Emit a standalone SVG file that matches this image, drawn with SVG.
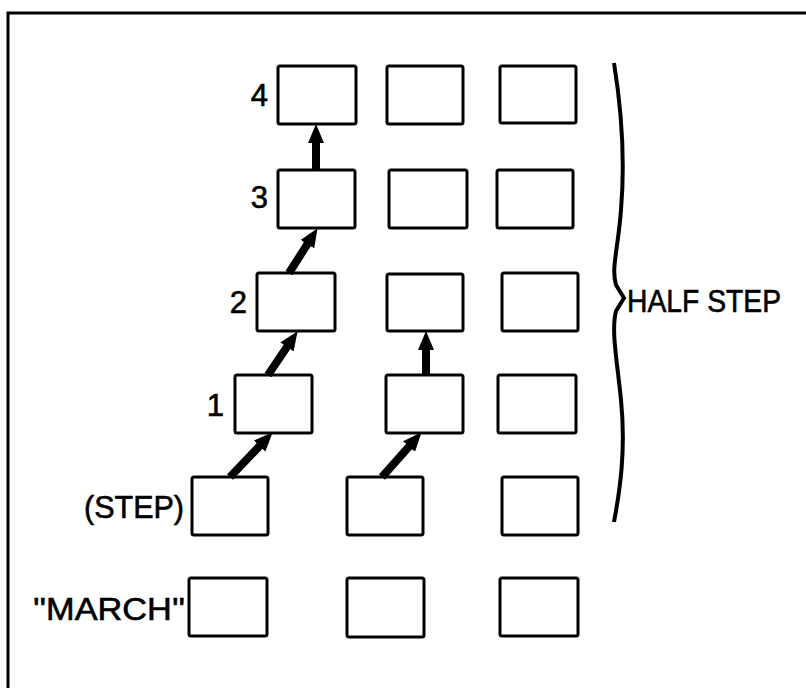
<svg xmlns="http://www.w3.org/2000/svg" width="806" height="688" viewBox="0 0 806 688">
<style>
.box{fill:#fff;stroke:#000;stroke-width:3;}
.lbl{font-family:"Liberation Sans",Arial,sans-serif;font-size:31px;fill:#000;stroke:#000;stroke-width:0.6;}
.arr{stroke:#000;stroke-width:8;fill:none;marker-end:url(#ah);}
</style>
<defs>
<marker id="ah" markerUnits="userSpaceOnUse" markerWidth="20" markerHeight="17" refX="9" refY="8" orient="auto" viewBox="0 0 20 16">
<path d="M0,0 L19,8 L0,16 Z" fill="#000"/>
</marker>
</defs>
<rect width="806" height="688" fill="#fff"/>
<g id="frame" fill="none" stroke="#000" stroke-width="3">
<path d="M8,688 L8,13 L806,13"/>
</g>
<g id="r4c1"><rect class="box" x="278" y="66" width="78" height="58" rx="2"/><text class="lbl" x="268" y="106" text-anchor="end">4</text></g>
<g id="r4c2"><rect class="box" x="387" y="66" width="76" height="58" rx="2"/></g>
<g id="r4c3"><rect class="box" x="500" y="66" width="76" height="57" rx="2"/></g>
<g id="r3c1"><rect class="box" x="278" y="170" width="77" height="58" rx="2"/><text class="lbl" x="268" y="208" text-anchor="end">3</text></g>
<g id="r3c2"><rect class="box" x="389" y="170" width="78" height="58" rx="2"/></g>
<g id="r3c3"><rect class="box" x="497" y="170" width="76" height="58" rx="2"/></g>
<g id="r2c1"><rect class="box" x="257" y="273" width="78" height="58" rx="2"/><text class="lbl" x="247" y="313" text-anchor="end">2</text></g>
<g id="r2c2"><rect class="box" x="387" y="274" width="76" height="57" rx="2"/></g>
<g id="r2c3"><rect class="box" x="502" y="273" width="76" height="58" rx="2"/></g>
<g id="r1c1"><rect class="box" x="235" y="375" width="77" height="58" rx="2"/><text class="lbl" x="224" y="416" text-anchor="end">1</text></g>
<g id="r1c2"><rect class="box" x="386" y="375" width="77" height="58" rx="2"/></g>
<g id="r1c3"><rect class="box" x="498" y="375" width="78" height="58" rx="2"/></g>
<g id="r0c1"><rect class="box" x="192" y="477" width="76" height="58" rx="2"/><text class="lbl" x="84" y="518" textLength="100" lengthAdjust="spacingAndGlyphs">(STEP)</text></g>
<g id="r0c2"><rect class="box" x="347" y="477" width="76" height="58" rx="2"/></g>
<g id="r0c3"><rect class="box" x="502" y="477" width="76" height="58" rx="2"/></g>
<g id="rmc1"><rect class="box" x="189" y="578" width="78" height="58" rx="2"/><text class="lbl" x="33" y="620" textLength="152" lengthAdjust="spacingAndGlyphs">''MARCH''</text></g>
<g id="rmc2"><rect class="box" x="347" y="578" width="77" height="59" rx="2"/></g>
<g id="rmc3"><rect class="box" x="500" y="578" width="78" height="58" rx="2"/></g>
<g id="halfstep">
<path d="M614,63 C620,100 626,150 621,210 C618,250 611,268 616,285 L624,298 L616,311 C611,330 617,360 621,400 C626,450 620,490 614,522" fill="none" stroke="#000" stroke-width="4" stroke-linejoin="miter"/>
<text class="lbl" x="627" y="312" textLength="154" lengthAdjust="spacingAndGlyphs">HALF STEP</text>
</g>
<g id="connectors">
<line class="arr" x1="230" y1="477" x2="265.8" y2="439.5"/>
<line class="arr" x1="382" y1="477" x2="415" y2="439.8"/>
<line class="arr" x1="268" y1="375" x2="292" y2="339.5"/>
<line class="arr" x1="426" y1="375" x2="426" y2="341"/>
<line class="arr" x1="289" y1="273" x2="312.2" y2="236.6"/>
<line class="arr" x1="316" y1="171" x2="316" y2="134"/>
</g>
</svg>
